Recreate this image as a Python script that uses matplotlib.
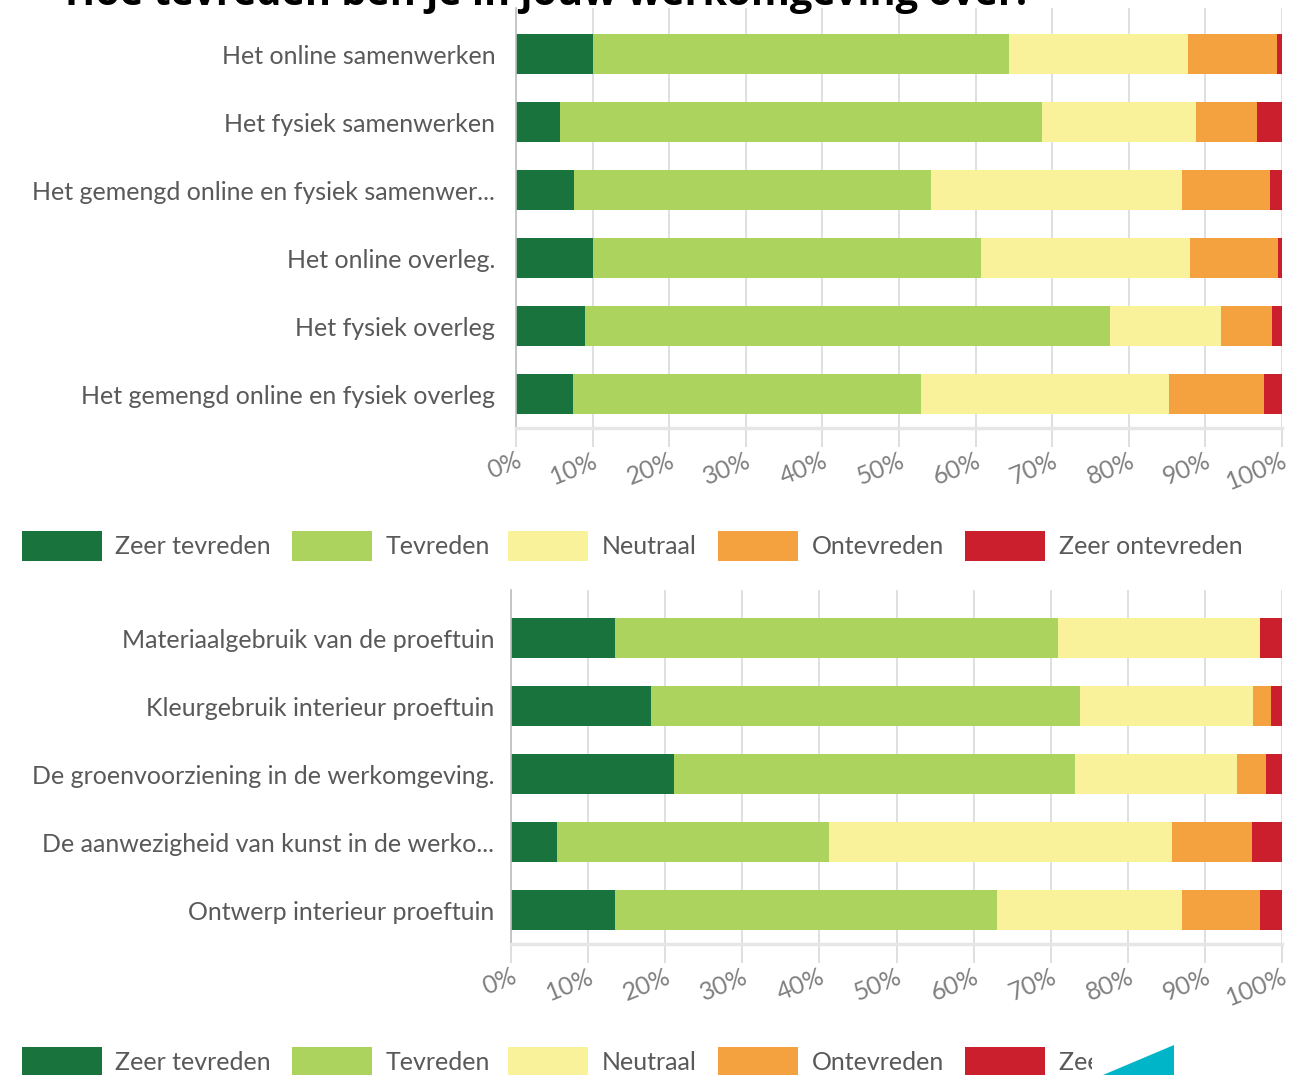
import matplotlib
matplotlib.use('Agg')
import matplotlib.pyplot as plt
from matplotlib.patches import Rectangle, Polygon

plt.rcParams['font.family'] = ['Lato', 'DejaVu Sans']

W, H = 1294, 1075

# categorieën en kleuren
levels = ['Zeer tevreden', 'Tevreden', 'Neutraal', 'Ontevreden', 'Zeer ontevreden']
colors = ['#18733D', '#ADD35F', '#FAF29B', '#F4A23F', '#CB1F2E']

# bovenste grafiek: samenwerken / overleg (percentages)
top_labels = ['Het online samenwerken', 'Het fysiek samenwerken',
              'Het gemengd online en fysiek samenwer...', 'Het online overleg.',
              'Het fysiek overleg', 'Het gemengd online en fysiek overleg']
top_zeer_tevreden = [10.0, 5.8, 7.6, 10.0, 9.0, 7.4]
top_tevreden = [54.3, 62.9, 46.6, 50.7, 68.6, 45.5]
top_neutraal = [23.4, 20.1, 32.8, 27.3, 14.5, 32.4]
top_ontevreden = [11.7, 8.0, 11.4, 11.5, 6.6, 12.3]
top_zeer_ontevreden = [0.6, 3.2, 1.6, 0.5, 1.3, 2.4]

# onderste grafiek: inrichting proeftuin
bot_labels = ['Materiaalgebruik van de proeftuin', 'Kleurgebruik interieur proeftuin',
              'De groenvoorziening in de werkomgeving.', 'De aanwezigheid van kunst in de werko...',
              'Ontwerp interieur proeftuin']
bot_zeer_tevreden = [13.5, 18.1, 21.2, 6.0, 13.5]
bot_tevreden = [57.5, 55.7, 51.9, 35.3, 49.5]
bot_neutraal = [26.1, 22.5, 21.0, 44.4, 24.0]
bot_ontevreden = [0.0, 2.3, 3.8, 10.4, 10.1]
bot_zeer_ontevreden = [2.9, 1.4, 2.1, 3.9, 2.9]

xticks = list(range(0, 101, 10))
xtick_labels = [f'{t}%' for t in xticks]

TEXT_GREY = '#595959'
TICK_GREY = '#808080'
GRID_GREY = '#D9D9D9'


def px_box(left, top, right, bottom):
    return [left / W, 1 - bottom / H, (right - left) / W, (bottom - top) / H]


def draw_chart(ax, labels, series, top_margin, ypad):
    n = len(labels)
    ypos = list(range(n))
    left = [0.0] * n
    for vals, col, name in zip(series, colors, levels):
        ax.barh(ypos, vals, left=left, height=0.59, color=col, label=name, zorder=2)
        left = [a + b for a, b in zip(left, vals)]
    ax.set_xlim(0, 100)
    ax.set_ylim(n - 0.5, -top_margin)
    ax.set_yticks(ypos)
    ax.set_yticklabels(labels, fontsize=18, color=TEXT_GREY)
    ax.tick_params(axis='y', length=0, pad=ypad)
    ax.set_xticks(xticks)
    ax.set_xticklabels(xtick_labels, fontsize=18, color=TICK_GREY,
                       rotation=22, ha='right', rotation_mode='anchor')
    ax.tick_params(axis='x', length=14, color=GRID_GREY, width=1.2, pad=1)
    ax.grid(axis='x', color=GRID_GREY, linewidth=1.2, zorder=0)
    for s in ['top', 'right']:
        ax.spines[s].set_visible(False)
    ax.spines['bottom'].set_color('#E6E6E6')
    ax.spines['bottom'].set_linewidth(2.5)
    ax.spines['left'].set_color('#BFBFBF')
    ax.spines['left'].set_linewidth(1.2)


def draw_legend(fig, ycenter):
    patch_x = [22, 292, 508, 718, 965]
    text_x = [115, 386, 602, 812, 1059]
    for px, tx, col, name in zip(patch_x, text_x, colors, levels):
        fig.add_artist(Rectangle((px / W, 1 - (ycenter + 15) / H), 80 / W, 30 / H,
                                 transform=fig.transFigure, color=col, lw=0))
        fig.text(tx / W, 1 - ycenter / H, name, fontsize=18, color=TEXT_GREY,
                 ha='left', va='center')


fig = plt.figure(figsize=(W / 100, H / 100), dpi=100)

ax1 = fig.add_axes(px_box(516, 8, 1282, 428))
draw_chart(ax1, top_labels,
           [top_zeer_tevreden, top_tevreden, top_neutraal, top_ontevreden, top_zeer_ontevreden],
           0.68, 15)

ax2 = fig.add_axes(px_box(511, 590, 1282, 944))
draw_chart(ax2, bot_labels,
           [bot_zeer_tevreden, bot_tevreden, bot_neutraal, bot_ontevreden, bot_zeer_ontevreden],
           0.71, 12)

draw_legend(fig, 546)
draw_legend(fig, 1062)

# titel (afgesneden aan de bovenkant)
fig.text(65 / W, 1 - 5 / H, 'Hoe tevreden ben je in jouw werkomgeving over:',
         fontsize=28.5, fontweight='bold', color='black', ha='left', va='baseline',
         family=['Open Sans', 'DejaVu Sans'])

# overlap rechtsonder: wit vlak en cyaan driehoek
fig.add_artist(Rectangle((1092 / W, 0), (W - 1092) / W, 40 / H,
                         transform=fig.transFigure, color='white', lw=0, zorder=5))
fig.add_artist(Polygon([(1103 / W, 0), (1174 / W, 0), (1174 / W, 30 / H)],
                       closed=True, transform=fig.transFigure, color='#00B5C8',
                       lw=0, zorder=6))

fig.savefig('out.png', dpi=100)
